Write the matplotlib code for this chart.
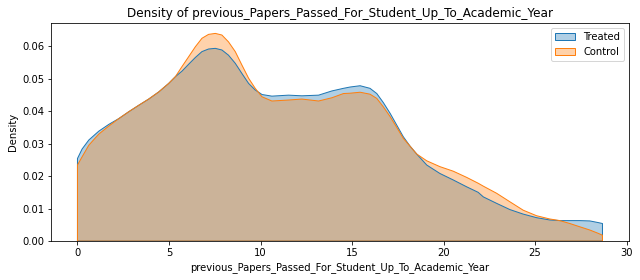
import numpy as np
import matplotlib.pyplot as plt
from matplotlib.patches import Patch

# density curves (x = papers passed)
x = [0, 0.25, 0.62, 1.16, 1.71, 2.26, 2.80, 3.35, 3.89, 4.44, 4.98, 5.35,
     5.71, 6.07, 6.44, 6.80, 7.16, 7.53, 7.89, 8.25, 8.62, 8.98, 9.35, 9.71,
     10.08, 10.62, 11.53, 12.26, 13.17, 13.9, 14.53, 14.89, 15.44, 15.98,
     16.35, 16.71, 17.08, 17.44, 17.8, 18.17, 18.53, 19.08, 19.8, 20.53,
     21.26, 21.89, 22.17, 22.9, 23.62, 24.35, 25.08, 25.8, 26.35, 26.9,
     27.44, 27.99, 28.44, 28.68]
treated = [0.0254, 0.0283, 0.0311, 0.0338, 0.0359, 0.0377, 0.0398, 0.0418,
           0.0437, 0.0459, 0.0485, 0.0506, 0.0523, 0.0544, 0.0565, 0.0583,
           0.0591, 0.0593, 0.0588, 0.0572, 0.0547, 0.0516, 0.0485, 0.0465,
           0.0451, 0.0446, 0.0449, 0.0447, 0.0449, 0.0462, 0.0470, 0.0474,
           0.0478, 0.0470, 0.0454, 0.0426, 0.0393, 0.0357, 0.0321, 0.0292,
           0.0268, 0.0234, 0.0208, 0.0188, 0.0167, 0.0150, 0.0136, 0.0116,
           0.0097, 0.0083, 0.0072, 0.0065, 0.0063, 0.0063, 0.0063, 0.0062,
           0.0057, 0.0054]
control = [0.0234, 0.0259, 0.0295, 0.0329, 0.0354, 0.0377, 0.0398, 0.0418,
           0.0437, 0.0459, 0.0485, 0.0506, 0.0537, 0.0567, 0.0598, 0.0624,
           0.0636, 0.0639, 0.0634, 0.0613, 0.0583, 0.0542, 0.0501, 0.0470,
           0.0444, 0.0431, 0.0434, 0.0437, 0.0431, 0.0441, 0.0454, 0.0455,
           0.0458, 0.0452, 0.0439, 0.0413, 0.0383, 0.0350, 0.0316, 0.0292,
           0.0268, 0.0247, 0.0229, 0.0215, 0.0196, 0.0178, 0.0169, 0.0147,
           0.0121, 0.0095, 0.0078, 0.0068, 0.0063, 0.0054, 0.0044, 0.0034,
           0.0024, 0.0018]

col = "previous_Papers_Passed_For_Student_Up_To_Academic_Year"

fig, ax = plt.subplots(figsize=(640 / 72, 280 / 72), dpi=72)
fig.subplots_adjust(left=0.08, right=0.983, bottom=0.139, top=0.919)

for y, c, lab in [(treated, "C0", "Treated"), (control, "C1", "Control")]:
    ax.fill_between(x, 0, y, facecolor=c, alpha=0.35, label=lab)
    # outline drawn solid, like seaborn's filled kde
    xs = np.concatenate([[x[0]], x, [x[-1]], [x[0]]])
    ys = np.concatenate([[0], y, [0], [0]])
    ax.plot(xs, ys, color=c, lw=1)

ax.set_xlim(-1.435, 30.135)
ax.set_ylim(0, 0.0672)
ax.set_title("Density of " + col)
ax.set_xlabel(col)
ax.set_ylabel("Density")

handles = [Patch(facecolor=(0.12, 0.47, 0.71, 0.35), edgecolor="C0", label="Treated"),
           Patch(facecolor=(1.0, 0.5, 0.05, 0.35), edgecolor="C1", label="Control")]
ax.legend(handles=handles, loc="upper right")

fig.savefig("out.png")
